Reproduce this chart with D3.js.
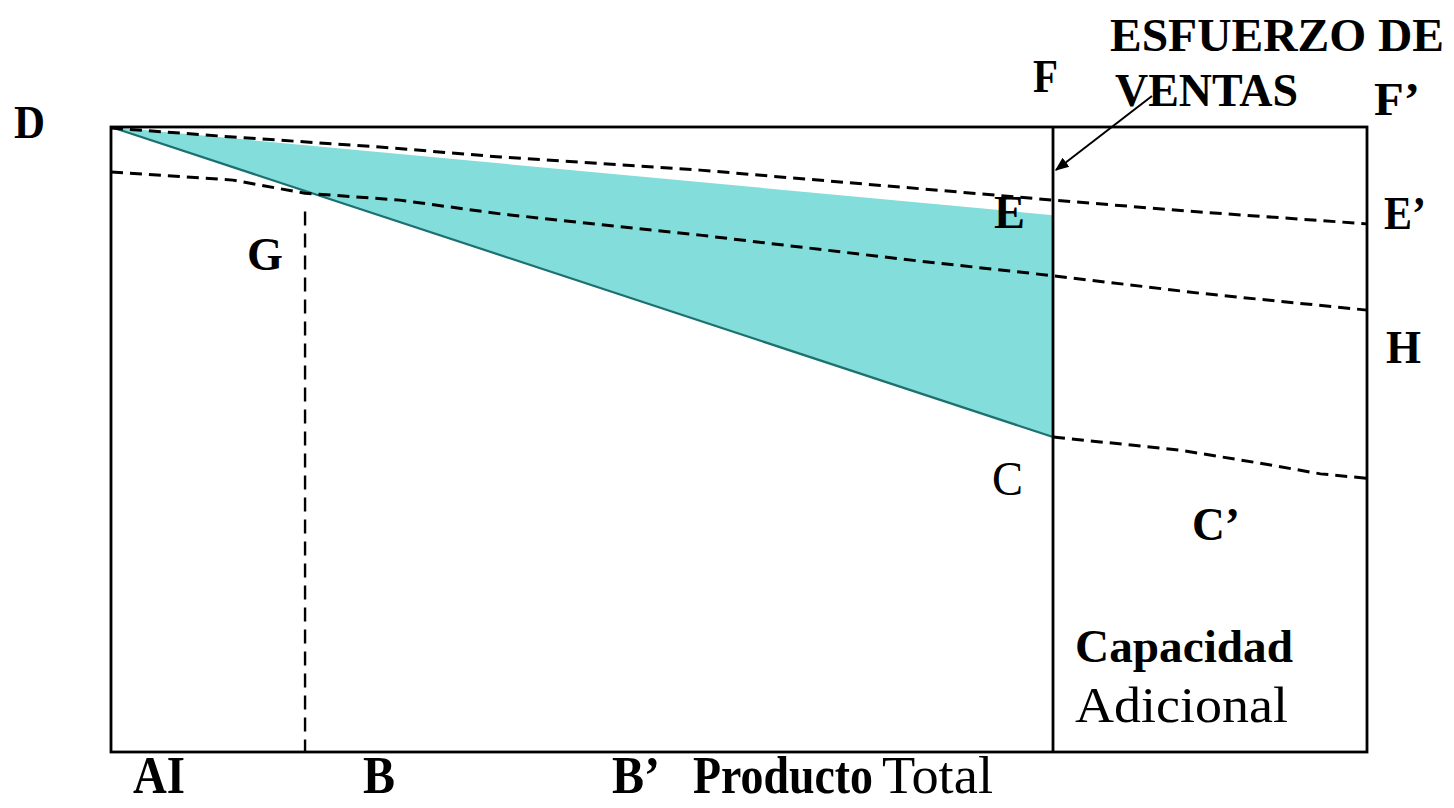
<!DOCTYPE html>
<html><head><meta charset="utf-8">
<script src="https://cdn.jsdelivr.net/npm/d3@7"></script>
<style>
html,body{margin:0;padding:0;background:#fff;}
svg{display:block;}
text{font-family:"Liberation Serif","Times New Roman",serif;fill:#000;}
</style></head>
<body>
<svg id="chart" width="1454" height="808"></svg>
<script>
// ---- data (schematic units: x = production 0..100, y = value 0..100) ----
const boxX = [0, 100];
const boxY = [0, 100];
const capacityX = 75;                 // vertical F line (capacity limit)
const gX = 15.45;                      // B / G vertical
const gTop = 86.5;
const triangle = [[0, 100], [75, 85.9], [75, 50.4]];   // D, E, C
const lineDE = [[0,99.84],[9.71,98.4],[21.4,96.8],[31.0,95.2],[46.9,93.1],[62.8,90.4],[75,88.3],[86.7,86.4],[100,84.5]];
const lineGH = [[0,92.8],[9.71,91.5],[15.45,89.4],[23.0,88.3],[31.0,86.1],[46.9,82.7],[62.8,78.9],[75,76.2],[86.7,73.4],[100,70.7]];
const lineCC = [[75,50.4],[85.1,48.3],[91.5,46.2],[96.3,44.5],[100,43.8]];

const svg = d3.select("#chart");
const x = d3.scaleLinear().domain(boxX).range([111, 1367]);
const y = d3.scaleLinear().domain(boxY).range([752, 127]);
const line = d3.line().x(d => x(d[0])).y(d => y(d[1]));

// arrow marker
svg.append("defs").append("marker")
  .attr("id","arr").attr("viewBox","0 0 10 10").attr("refX",9).attr("refY",5)
  .attr("markerWidth",7).attr("markerHeight",7).attr("orient","auto")
  .append("path").attr("d","M0,1 L10,5 L0,9 z").attr("fill","#000");

// teal triangle
svg.append("path")
  .attr("d", line(triangle) + "Z")
  .attr("fill","#82dddb").attr("stroke","none");
svg.append("line")
  .attr("x1",x(triangle[0][0])).attr("y1",y(triangle[0][1]))
  .attr("x2",x(triangle[2][0])).attr("y2",y(triangle[2][1]))
  .attr("stroke","#1d7070").attr("stroke-width",2.2);

// dashed lines
[lineDE, lineGH, lineCC].forEach(d => {
  svg.append("path").attr("d", line(d)).attr("fill","none")
    .attr("stroke","#000").attr("stroke-width",3).attr("stroke-dasharray","12,7");
});
svg.append("line")
  .attr("x1",x(gX)).attr("x2",x(gX)).attr("y1",y(gTop)).attr("y2",y(0))
  .attr("stroke","#000").attr("stroke-width",2.4).attr("stroke-dasharray","14,8");

// box and capacity line
svg.append("rect")
  .attr("x",x(boxX[0])).attr("y",y(boxY[1]))
  .attr("width",x(boxX[1])-x(boxX[0])).attr("height",y(boxY[0])-y(boxY[1]))
  .attr("fill","none").attr("stroke","#000").attr("stroke-width",2.8);
svg.append("line")
  .attr("x1",x(capacityX)).attr("x2",x(capacityX)).attr("y1",y(100)).attr("y2",y(0))
  .attr("stroke","#000").attr("stroke-width",2.8);

// arrow
svg.append("line").attr("x1",1152).attr("y1",96).attr("x2",1056).attr("y2",170)
  .attr("stroke","#000").attr("stroke-width",2).attr("marker-end","url(#arr)");

// labels
const labels = [
  {t:"D", x:14, y:138, s:46, b:true, w:31},
  {t:"F", x:1033, y:92, s:46, b:true, w:25},
  {t:"ESFUERZO  DE", x:1110, y:51, s:46, b:true, w:334},
  {t:"VENTAS", x:1115, y:106, s:46, b:true, w:183},
  {t:"F\u2019", x:1374, y:115, s:46, b:true, w:46},
  {t:"E", x:994, y:228, s:46, b:true, w:31},
  {t:"E\u2019", x:1384, y:229, s:46, b:true, w:42},
  {t:"G", x:247, y:270, s:46, b:true, w:36},
  {t:"H", x:1386, y:363, s:46, b:true, w:35},
  {t:"C", x:992, y:495, s:48, b:false, w:31},
  {t:"C\u2019", x:1192, y:540, s:46, b:true, w:48},
  {t:"Capacidad", x:1075, y:662, s:46, b:true, w:218},
  {t:"Adicional", x:1075, y:722, s:50, b:false, w:213}
];
labels.forEach(l => {
  svg.append("text").attr("x",l.x).attr("y",l.y)
    .attr("font-size",l.s).attr("font-weight",l.b?"bold":"normal")
    .attr("textLength",l.w).attr("lengthAdjust","spacingAndGlyphs")
    .text(l.t);
});
const bottom = [
  {t:"AI", x:133, b:true, w:52},
  {t:"B", x:363, b:true, w:32},
  {t:"B\u2019", x:612, b:true, w:48},
  {t:"Producto", x:693, b:true, w:180},
  {t:"Total", x:882, b:false, w:111}
];
bottom.forEach(l => {
  svg.append("text").attr("transform",`translate(${l.x},793) scale(1,1.15)`)
    .attr("font-size",46).attr("font-weight",l.b?"bold":"normal")
    .attr("textLength",l.w).attr("lengthAdjust","spacingAndGlyphs")
    .text(l.t);
});
</script>
</body></html>
